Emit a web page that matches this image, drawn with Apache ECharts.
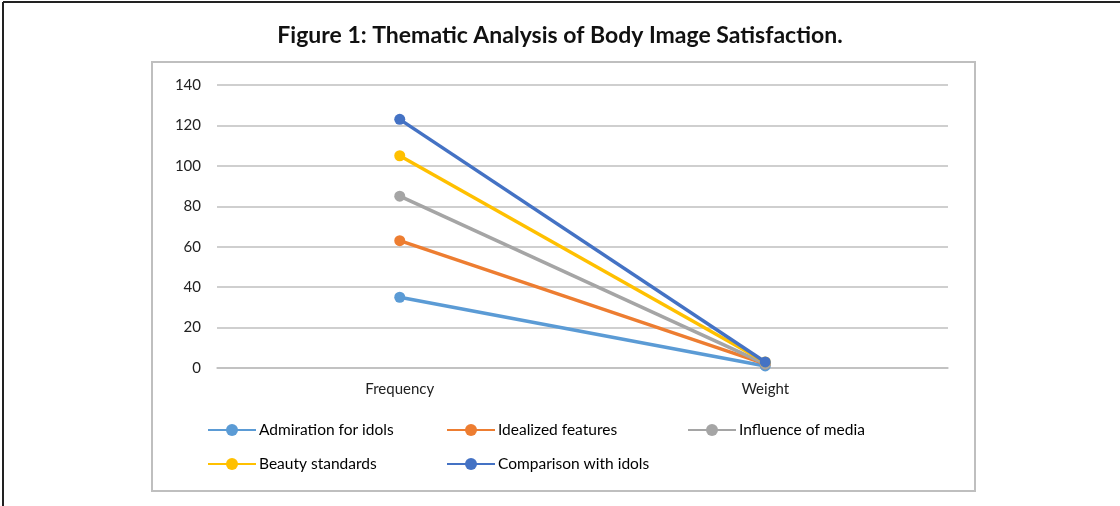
<!DOCTYPE html>
<html>
<head>
<meta charset="utf-8">
<script src="https://cdn.jsdelivr.net/npm/echarts@6/dist/echarts.min.js"></script>
<style>
  html, body { margin: 0; padding: 0; background: #fff; }
  #main { width: 1120px; height: 506px; }
</style>
</head>
<body>
<div id="main"></div>
<script>
// 数据
var categories = ['Frequency', 'Weight'];
var seriesNames = ['Admiration for idols', 'Idealized features', 'Influence of media', 'Beauty standards', 'Comparison with idols'];
var admiration = [35, 1];
var idealized = [63, 2];
var influence = [85, 2];
var beauty = [105, 3];
var comparison = [123, 3];
var yTicks = [0, 20, 40, 60, 80, 100, 120, 140];

var colors = ['#5B9BD5', '#ED7D31', '#A5A5A5', '#FFC000', '#4472C4'];
var values = [admiration, idealized, influence, beauty, comparison];
var font = 'Lato, "Open Sans", sans-serif';

var myChart = echarts.init(document.getElementById('main'));

var series = [];
for (var i = 0; i < seriesNames.length; i++) {
    series.push({
        name: seriesNames[i],
        type: 'line',
        data: values[i],
        symbol: 'circle',
        symbolSize: 11,
        lineStyle: { width: 3.5, color: colors[i] },
        itemStyle: { color: colors[i] },
        z: 2 + i
    });
}

// 图例位置：三列两行
var legendPos = [[207, 422], [446, 422], [687, 422], [207, 456], [446, 456]];
var legends = [];
for (var j = 0; j < seriesNames.length; j++) {
    legends.push({
        data: [seriesNames[j]],
        left: legendPos[j][0],
        top: legendPos[j][1],
        padding: 0,
        itemWidth: 48,
        itemHeight: 15,
        itemGap: 0,
        lineStyle: { width: 2 },
        textStyle: { fontFamily: font, fontSize: 15.5, color: '#000', padding: [0, 0, 0, -2] }
    });
}

var option = {
    animation: false,
    color: colors,
    title: {
        text: 'Figure 1: Thematic Analysis of Body Image Satisfaction.',
        left: 'center',
        top: 19,
        textStyle: { fontFamily: font, fontSize: 23, fontWeight: 'bold', color: '#111' }
    },
    grid: { left: 217, right: 172, top: 85, bottom: 138 },
    legend: legends,
    xAxis: {
        type: 'category',
        data: categories,
        boundaryGap: true,
        axisLine: { lineStyle: { color: '#BFBFBF', width: 1.5 } },
        axisTick: { show: false },
        axisLabel: { fontFamily: font, fontSize: 15, color: '#222', margin: 14 }
    },
    yAxis: {
        type: 'value',
        min: yTicks[0],
        max: yTicks[yTicks.length - 1],
        interval: 20,
        axisLine: { show: false },
        axisTick: { show: false },
        splitLine: { lineStyle: { color: '#BFBFBF', width: 1.5 } },
        axisLabel: { fontFamily: font, fontSize: 15, color: '#222', margin: 16 }
    },
    graphic: [
        { type: 'rect', shape: { x: 152, y: 62, width: 823, height: 429 },
          style: { fill: null, stroke: '#BFBFBF', lineWidth: 2 }, z: -1 },
        { type: 'line', shape: { x1: 3, y1: 2, x2: 1120, y2: 2 },
          style: { stroke: '#222', lineWidth: 2 } },
        { type: 'line', shape: { x1: 3, y1: 2, x2: 3, y2: 506 },
          style: { stroke: '#222', lineWidth: 2 } }
    ],
    series: series
};

myChart.setOption(option);
</script>
</body>
</html>
